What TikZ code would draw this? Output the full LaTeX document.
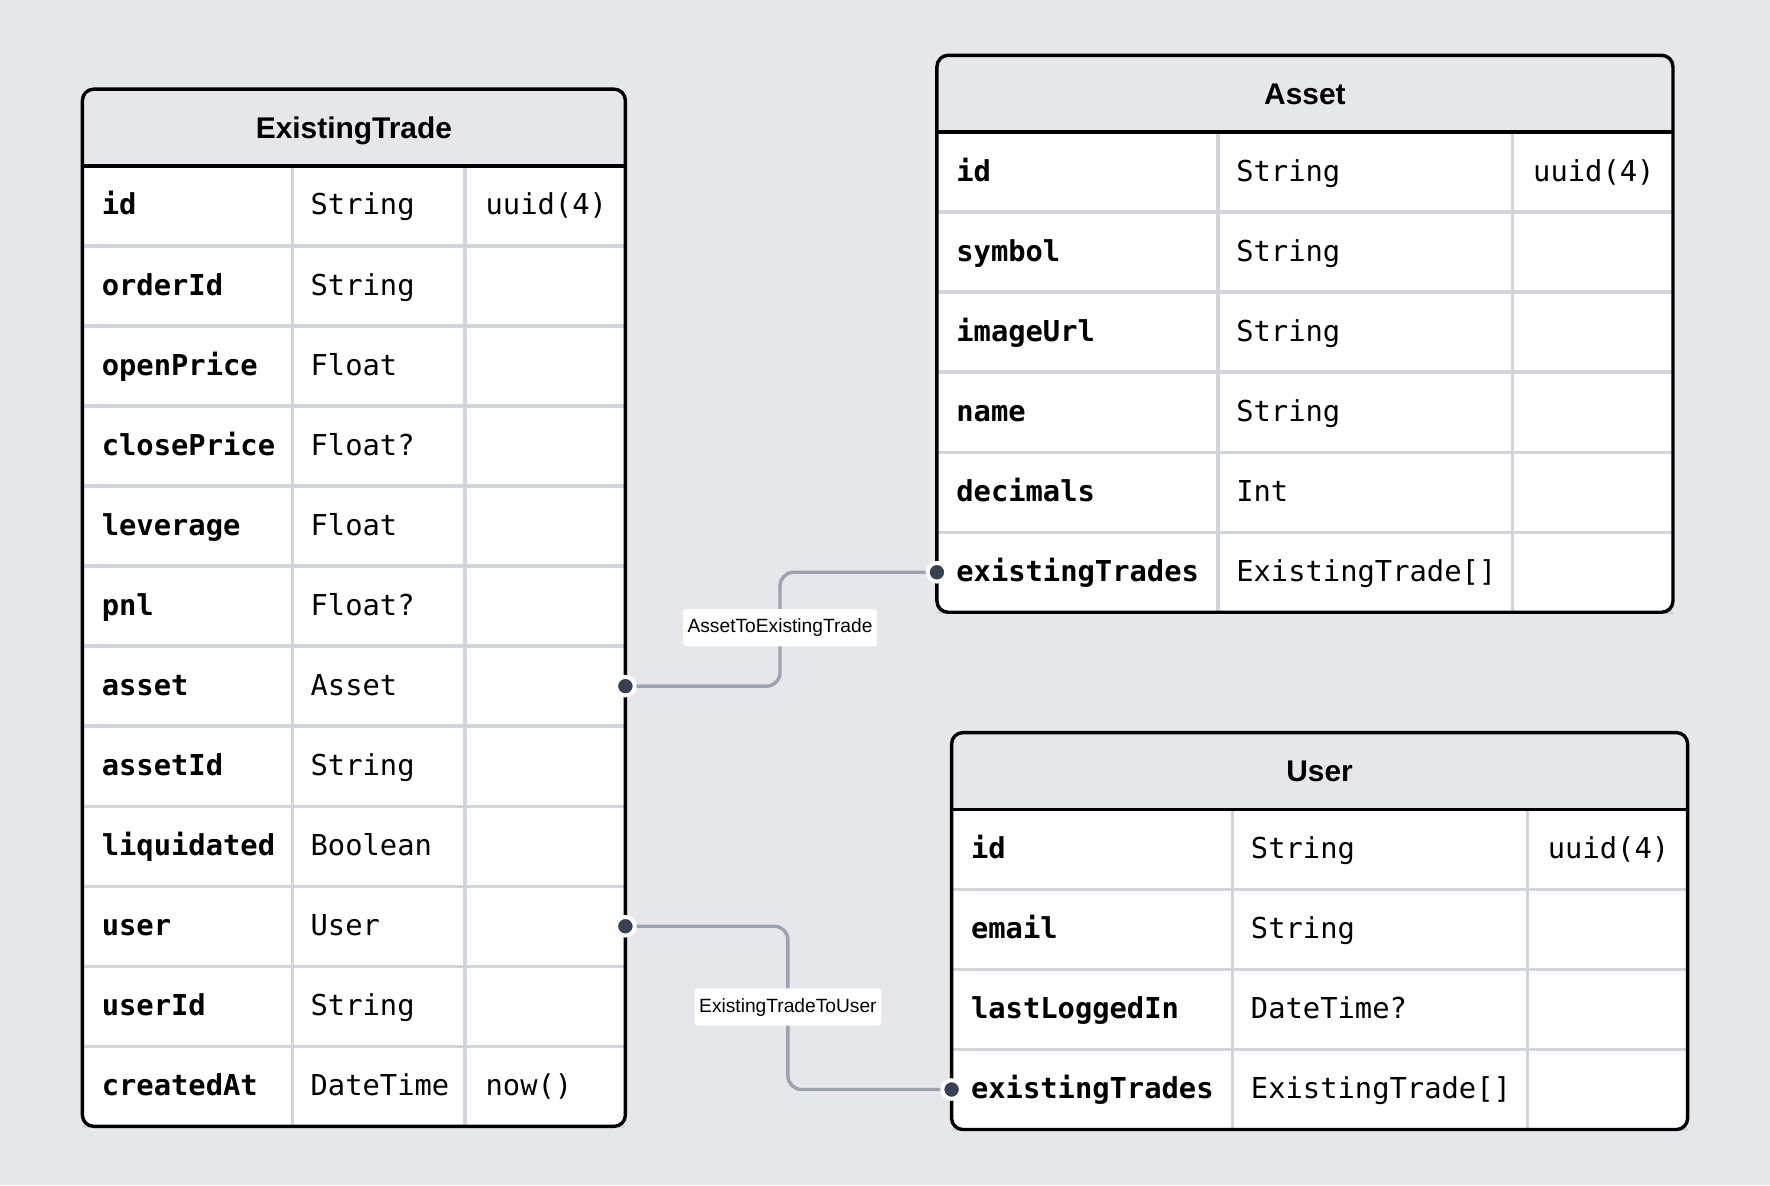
\documentclass[tikz,border=0pt]{standalone}
\usepackage{fontspec}
\setmainfont{Liberation Sans}
\newfontfamily\erdmono{DejaVu Sans Mono}
\definecolor{bgc}{RGB}{229,231,235}
\definecolor{hdrc}{RGB}{229,231,235}
\definecolor{gridc}{RGB}{209,213,219}
\definecolor{connc}{RGB}{156,163,175}
\definecolor{dotc}{RGB}{55,65,81}
\tikzset{
  fname/.style={anchor=base west, inner sep=0, font=\erdmono\bfseries\fontsize{25.5}{30}\selectfont},
  ftype/.style={anchor=base west, inner sep=0, font=\erdmono\fontsize{25.5}{30}\selectfont},
  thead/.style={anchor=base, inner sep=0, font=\bfseries\fontsize{26.5}{30}\selectfont},
  gridline/.style={gridc, line width=3},
  tborder/.style={black, line width=3, rounded corners=10},
  connline/.style={connc, line width=3, rounded corners=12},
  portdot/.style={circle, fill=dotc, draw=white, line width=3.5, minimum size=16.5, inner sep=0},
  rellabel/.style={fill=white, rounded corners=3, font=\fontsize{17}{20}\selectfont, inner xsep=4, inner ysep=0, minimum height=33, text height=12.5, text depth=3.5},
}
% #1 id, #2 x0, #3 x1, #4 top, #5 c1, #6 c2, #7 nrows, #8 title, #9 rows
\newcommand\erdtable[9]{%
  \pgfmathsetmacro\tabhb{#4+68}%
  \pgfmathsetmacro\tabbot{\tabhb+#7*70.9}%
  \fill[white,rounded corners=10] (#2,#4) rectangle (#3,\tabbot);
  \begin{scope}
    \clip[rounded corners=10] (#2,#4) rectangle (#3,\tabbot);
    \fill[hdrc] (#2,#4) rectangle (#3,\tabhb);
  \end{scope}
  \foreach \k in {1,...,#7}{
    \draw[gridline] (#2,{\tabhb+\k*70.9}) -- (#3,{\tabhb+\k*70.9});
  }
  \draw[gridline] (#5,\tabhb) -- (#5,\tabbot);
  \draw[gridline] (#6,\tabhb) -- (#6,\tabbot);
  \draw[black,line width=3] (#2,\tabhb) -- (#3,\tabhb);
  \draw[tborder] (#2,#4) rectangle (#3,\tabbot);
  \node[thead] (#1) at ({(#2+#3)/2},{#4+43.5}) {#8};
  \foreach \fa/\fb/\fc [count=\i] in {#9}{
    \node[fname] (#1-n\i) at ({#2+17},{\tabhb+(\i-0.5)*70.9+8}) {\fa};
    \node[ftype] (#1-t\i) at ({#5+16},{\tabhb+(\i-0.5)*70.9+8}) {\fb};
    \node[ftype] (#1-d\i) at ({#6+18},{\tabhb+(\i-0.5)*70.9+8}) {\fc};
    \coordinate (#1-L\i) at (#2,{\tabhb+(\i-0.5)*70.9});
    \coordinate (#1-R\i) at (#3,{\tabhb+(\i-0.5)*70.9});
  }
}
\begin{document}
\begin{tikzpicture}[x=1pt,y=-1pt]
\fill[bgc] (0,0) rectangle (1568,1050);
\useasboundingbox (0,0) rectangle (1568,1050);

\erdtable{ET}{73}{554}{79}{259}{412}{12}{ExistingTrade}{
  id/String/uuid(4), orderId/String/{}, openPrice/Float/{}, closePrice/Float?/{},
  leverage/Float/{}, pnl/Float?/{}, asset/Asset/{}, assetId/String/{},
  liquidated/Boolean/{}, user/User/{}, userId/String/{}, createdAt/DateTime/now()}

\erdtable{AS}{830}{1482}{49}{1079}{1340}{6}{Asset}{
  id/String/uuid(4), symbol/String/{}, imageUrl/String/{}, name/String/{},
  decimals/Int/{}, existingTrades/{ExistingTrade[]}/{}}

\erdtable{US}{843}{1495}{649}{1092}{1353}{4}{User}{
  id/String/uuid(4), email/String/{}, lastLoggedIn/DateTime?/{},
  existingTrades/{ExistingTrade[]}/{}}

\coordinate (m1) at (691,556);
\coordinate (m2) at (698,892);
\draw[connline] (ET-R7) -| (m1) |- (AS-L6);
\draw[connline] (ET-R10) -| (m2) |- (US-L4);
\node[rellabel] (lab1) at (m1) {AssetToExistingTrade};
\node[rellabel] (lab2) at (m2) {ExistingTradeToUser};
\node[portdot] (p1) at (ET-R7) {};
\node[portdot] (p2) at (AS-L6) {};
\node[portdot] (p3) at (ET-R10) {};
\node[portdot] (p4) at (US-L4) {};
\end{tikzpicture}
\end{document}
